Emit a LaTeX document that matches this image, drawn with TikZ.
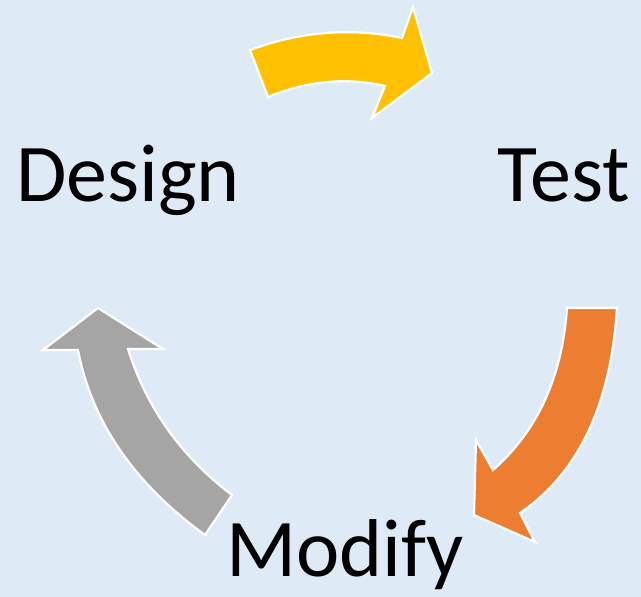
\documentclass[tikz,border=0pt]{standalone}
\usepackage{fontspec}
\setmainfont{Carlito}
\definecolor{bgblue}{HTML}{DEEBF7}
\definecolor{ayellow}{HTML}{FFC000}
\definecolor{aorange}{HTML}{ED7D31}
\definecolor{agray}{HTML}{A5A5A5}
\begin{document}
\begin{tikzpicture}[x=1pt,y=-1pt,
  cyclearrow/.style={draw=white, line width=2.2pt, line join=miter},
  label/.style={inner sep=0pt, font=\fontsize{82}{90}\selectfont, text=black}]
  % background
  \fill[bgblue] (0,0) rectangle (641,597);
  \useasboundingbox (0,0) rectangle (641,597);

  % Design -> Test
  \draw[cyclearrow, fill=ayellow]
    (250,50) .. controls (300.7,31.3) and (351.3,27.3) .. (402,38)
    -- (413,7) -- (432,73) -- (372,118) -- (385,86)
    .. controls (346.7,77) and (307.7,80.7) .. (268,97) -- cycle;

  % Test -> Modify
  \draw[cyclearrow, fill=aorange]
    (617,308) .. controls (610.7,405) and (578.3,473.3) .. (520,513)
    -- (535,542) -- (474,515) -- (476,440) -- (493,470)
    .. controls (537.7,430.7) and (562.3,376.7) .. (567,308) -- cycle;

  % Modify -> Design
  \draw[cyclearrow, fill=agray]
    (205,535) .. controls (134,483.3) and (91.7,421.7) .. (78,350)
    -- (43,350) -- (98,308) -- (163,349) -- (128,349)
    .. controls (146.7,408.3) and (181.3,456.7) .. (232,495) -- cycle;

  % labels
  \node[label, anchor=base west] (design) at (16,201) {Design};
  \node[label, anchor=base east] (test) at (630,201) {Test};
  \node[label, anchor=base west] (modify) at (226,576) {Modify};
\end{tikzpicture}
\end{document}
